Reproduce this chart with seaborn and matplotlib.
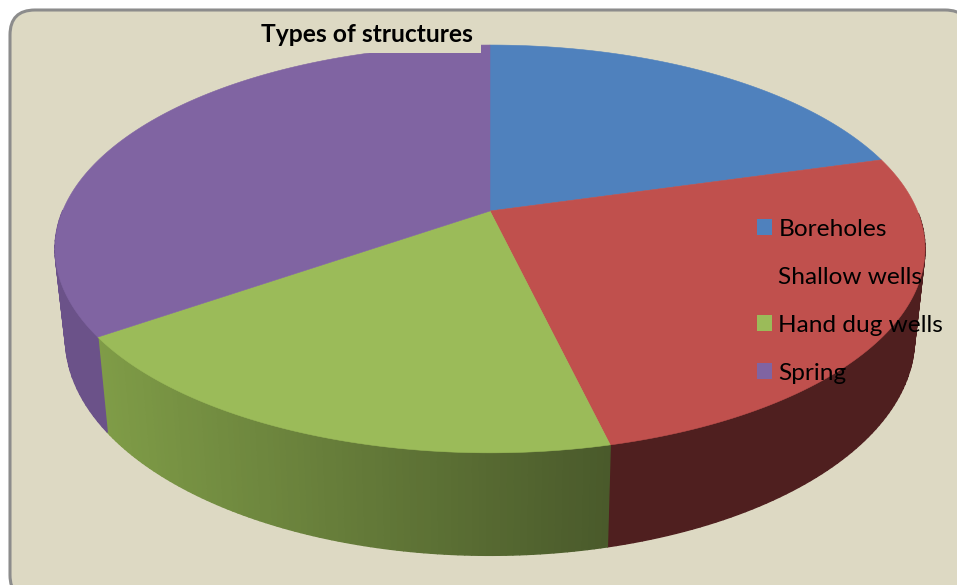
import numpy as np
import matplotlib
matplotlib.use("Agg")
import matplotlib.pyplot as plt
from matplotlib.collections import PolyCollection
from matplotlib.patches import FancyBboxPatch, Polygon, Rectangle
import seaborn as sns

# Data
categories = ["Boreholes", "Shallow wells", "Hand dug wells", "Spring"]
shares = [20.6, 25.7, 19.0, 34.7]
title_text = "Types of structures"

# Colours
top_colors = ["#4f81bd", "#c0504d", "#9bbb59", "#8064a2"]
wall_left = ["#3b6190", "#4f1f1f", "#7f9c47", "#6b5289"]
wall_right = ["#3b6190", "#4f1f1f", "#4a5a2b", "#6b5289"]
panel_color = "#ddd9c3"
frame_color = "#8c8c8c"

sns.set_theme(style="white")
plt.rcParams["font.family"] = ["Lato", "DejaVu Sans"]

# Perspective constants of the tilted disc, in figure pixels
CX, CY = 490.0, 211.0
PERSP = 0.186
RX = 427.4
RY = 157.6


def rim_top(angle):
    """Top rim point for clockwise angles measured from twelve o'clock."""
    px, py = np.sin(angle), np.cos(angle)
    den = 1 + PERSP * py
    return CX + RX * px / den, (CY - RY * py) / den


def rim_bottom(angle):
    """Lower rim of the disc, seen slightly smaller and further down."""
    x, y = rim_top(angle)
    return CX + 0.976 * (x - CX), CY + 86.8 + 1.065 * (y - CY)


fig = plt.figure(figsize=(9.57, 5.85), dpi=100, facecolor="white")
ax = fig.add_axes([0, 0, 1, 1])
ax.set_xlim(0, 957)
ax.set_ylim(585, 0)
ax.axis("off")

ax.add_patch(FancyBboxPatch((10, 10), 960, 590,
                            boxstyle="round,pad=0,rounding_size=25",
                            facecolor=panel_color, edgecolor=frame_color,
                            linewidth=2.2, zorder=1))

edges = np.radians(np.concatenate([[0], np.cumsum(shares)]) / sum(shares) * 360)

# Side walls: quads between the rims, shaded from left to right. A wide
# same-coloured edge closes the hairline seams between neighbouring quads.
# Quads on the far side of the disc are left out, as the top face hides them.
for i in range(len(shares)):
    t = np.linspace(edges[i], edges[i + 1], 90)
    xt, yt = rim_top(t)
    xb, yb = rim_bottom(t)
    ramp = np.array(sns.blend_palette([wall_left[i], wall_right[i]], 256))
    span = (xt - xt.min()) / max(xt.max() - xt.min(), 1)
    polys, cols = [], []
    for j in range(len(t) - 1):
        if np.cos(t[j]) > 0.0:
            continue
        polys.append([(xt[j], yt[j]), (xt[j + 1], yt[j + 1]),
                      (xb[j + 1], yb[j + 1]), (xb[j], yb[j])])
        cols.append(ramp[int(span[j] * 255)])
    ax.add_collection(PolyCollection(polys, facecolors=cols, edgecolors=cols,
                                     linewidths=1.0, zorder=2))

# Top faces
for i in range(len(shares)):
    t = np.linspace(edges[i], edges[i + 1], 200)
    xt, yt = rim_top(t)
    pts = np.column_stack([np.r_[CX, xt], np.r_[CY, yt]])
    ax.add_patch(Polygon(pts, closed=True, facecolor=top_colors[i],
                         edgecolor=top_colors[i], linewidth=0.4, zorder=3))

# The title sits on a panel-coloured box that trims the pie
ax.add_patch(Rectangle((250, 12), 231, 41, facecolor=panel_color,
                       edgecolor="none", zorder=4))
ax.text(366.5, 34.5, title_text, ha="center", va="center", color="black",
        fontsize=17.7, fontweight="bold", zorder=5)

handles = [Rectangle((0, 0), 1, 1, facecolor=c, edgecolor="none")
           for c in top_colors]
legend = ax.legend(handles, categories, loc="upper left",
                   bbox_to_anchor=(757 / 957, 1 - 219 / 585),
                   frameon=False, fontsize=17.6, labelcolor="black",
                   handlelength=0.62, handleheight=0.62, handletextpad=0.25,
                   labelspacing=1.10, borderpad=0, borderaxespad=0)
legend.set_zorder(6)

fig.savefig("out.png", dpi=100, facecolor="white")
